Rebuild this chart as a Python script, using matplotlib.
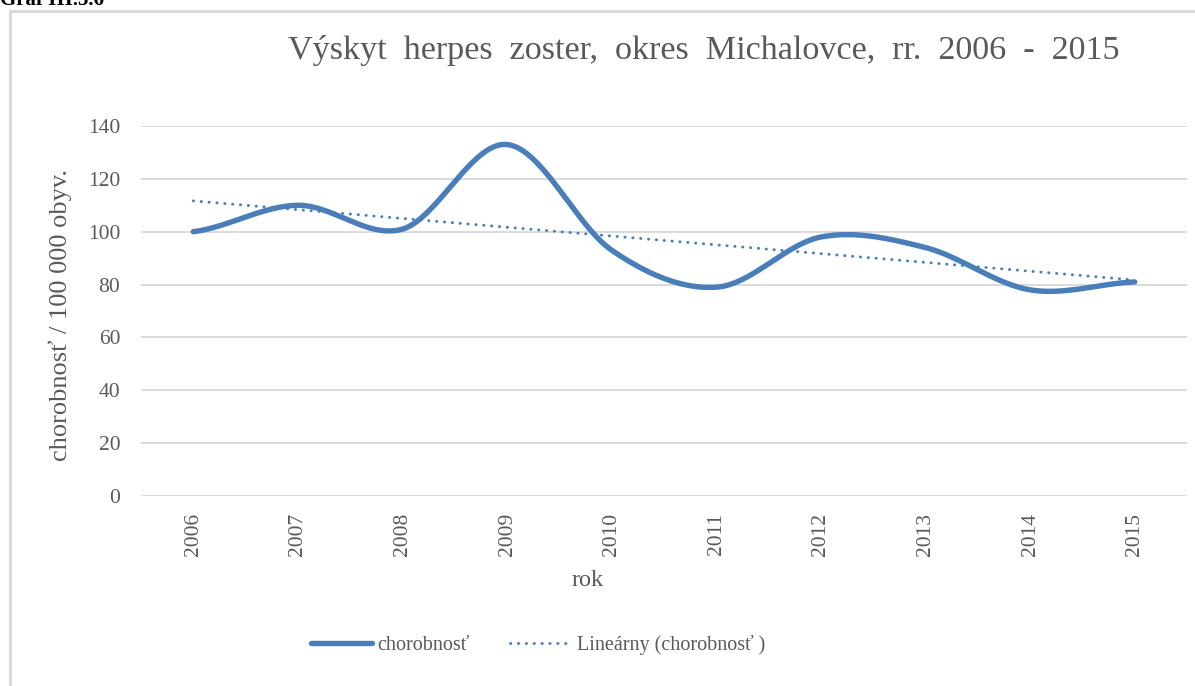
import numpy as np
import matplotlib
matplotlib.use("Agg")
import matplotlib.pyplot as plt
from matplotlib.patches import Rectangle
from matplotlib.lines import Line2D

years = ["2006", "2007", "2008", "2009", "2010", "2011", "2012", "2013", "2014", "2015"]
chorobnost = [100, 110, 101, 133, 93, 79, 98, 94, 78, 81]
yticks = [0, 20, 40, 60, 80, 100, 120, 140]

title = "Výskyt  herpes  zoster,  okres  Michalovce,  rr.  2006  -  2015"
ylabel = "chorobnosť / 100 000 obyv."
xlabel = "rok"
series_label = "chorobnosť"
trend_label = "Lineárny (chorobnosť )"

plt.rcParams['font.family'] = ['Liberation Serif', 'DejaVu Serif']
TXT = '#595959'
BLUE = '#4A7EBB'

W, H = 1195, 686
fig = plt.figure(figsize=(W / 100, H / 100), dpi=100)
ax = fig.add_axes([141 / W, (H - 496) / H, (1187 - 141) / W, 370 / H])

x = np.arange(len(years), dtype=float)
y = np.array(chorobnost, dtype=float)

# Excel-like smoothed line (Catmull-Rom through the data points)
def smooth(xp, yp, n=40):
    px = np.concatenate([[2 * xp[0] - xp[1]], xp, [2 * xp[-1] - xp[-2]]])
    py = np.concatenate([[yp[0]], yp, [yp[-1]]])
    xs, ys = [], []
    for i in range(1, len(px) - 2):
        t = np.linspace(0, 1, n)
        mx0 = (px[i + 1] - px[i - 1]) / 2
        mx1 = (px[i + 2] - px[i]) / 2
        my0 = (py[i + 1] - py[i - 1]) / 2
        my1 = (py[i + 2] - py[i]) / 2
        if i == 1:
            my0 = (py[i + 1] - py[i]) / 2
        if i == len(px) - 3:
            my1 = (py[i + 1] - py[i]) / 2
        h00 = 2 * t**3 - 3 * t**2 + 1
        h10 = t**3 - 2 * t**2 + t
        h01 = -2 * t**3 + 3 * t**2
        h11 = t**3 - t**2
        xs.append(h00 * px[i] + h10 * mx0 + h01 * px[i + 1] + h11 * mx1)
        ys.append(h00 * py[i] + h10 * my0 + h01 * py[i + 1] + h11 * my1)
    return np.concatenate(xs), np.concatenate(ys)

DOT = (0, (0.1, 2.6))

sx, sy = smooth(x, y)
ax.plot(sx, sy, color=BLUE, lw=3.9, solid_capstyle='round', zorder=3)

coef = np.polyfit(x, y, 1)
ax.plot(x, np.polyval(coef, x), color=BLUE, lw=2.1, linestyle=DOT,
        dash_capstyle='round', zorder=2)

ax.set_xlim(-0.5, len(years) - 0.5)
ax.set_ylim(0, 140)
ax.set_yticks(yticks)
ax.set_yticklabels([str(v) for v in yticks])
ax.set_xticks(x)
ax.set_xticklabels(years, rotation=90)
ax.grid(axis='y', color='#D9D9D9', lw=1.3)
ax.set_axisbelow(True)
for s in ax.spines.values():
    s.set_visible(False)
ax.tick_params(axis='both', length=0, labelsize=15.5, colors=TXT)
ax.tick_params(axis='y', pad=15)
ax.tick_params(axis='x', pad=12)

fig.text(60 / W, 1 - 315 / H, ylabel, rotation=90, ha='center', va='center',
         fontsize=19, color=TXT)
fig.text(588 / W, 1 - 580 / H, xlabel, ha='center', va='center', fontsize=17.5, color=TXT)
fig.text(703.5 / W, 1 - 50 / H, title, ha='center', va='center', fontsize=24.6, color=TXT)

fig.text(0.0, 1 - 5 / H, "Graf III.5.6", ha='left', va='baseline', fontsize=15,
         fontweight='bold', color='black')

fig.add_artist(Rectangle((10 / W, -0.1), 2, (H - 11) / H + 0.1, transform=fig.transFigure,
                         fill=False, edgecolor='#D9D9D9', lw=2.2))

handles = [Line2D([], [], color=BLUE, lw=3.9, solid_capstyle='round'),
           Line2D([], [], color=BLUE, lw=2.1, linestyle=DOT, dash_capstyle='round')]
leg = fig.legend(handles, [series_label, trend_label], loc='center',
                 bbox_to_anchor=(538 / W, 1 - 645 / H), ncol=2, frameon=False,
                 fontsize=14.5, handlelength=3.0, handletextpad=0.3, columnspacing=2.0)
for t in leg.get_texts():
    t.set_color(TXT)

fig.savefig("out.png", dpi=100)
